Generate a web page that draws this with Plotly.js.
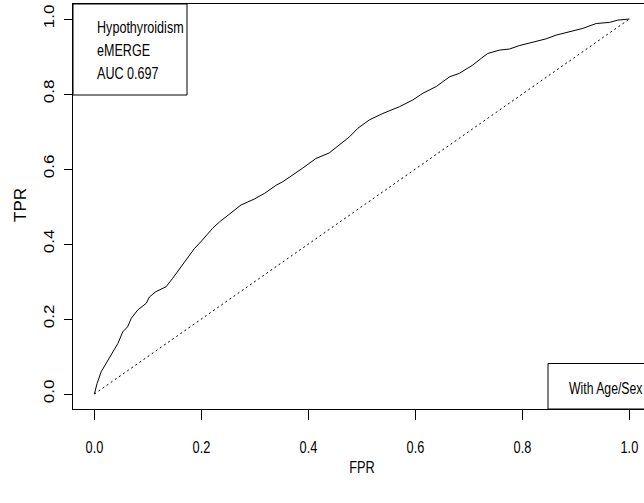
<!DOCTYPE html>
<html>
<head>
<meta charset="utf-8">
<script src="https://cdn.plot.ly/plotly-3.0.1.min.js"></script>
<style>html,body{margin:0;padding:0;background:#fff;}#chart{width:644px;height:503px;}</style>
</head>
<body>
<div id="chart"></div>
<script>
// ROC curve (FPR, TPR)
const fpr = [0, 0.005, 0.0125, 0.022, 0.031, 0.044, 0.053, 0.062, 0.069, 0.081, 0.097, 0.103, 0.115, 0.134, 0.146, 0.162, 0.174, 0.187, 0.199, 0.212, 0.221, 0.234, 0.255, 0.274, 0.299, 0.318, 0.34, 0.352, 0.389, 0.414, 0.439, 0.458, 0.477, 0.492, 0.514, 0.539, 0.57, 0.595, 0.614, 0.639, 0.664, 0.682, 0.707, 0.723, 0.735, 0.757, 0.776, 0.794, 0.819, 0.844, 0.863, 0.888, 0.913, 0.938, 0.963, 0.978, 1.0];
const tpr = [0, 0.028, 0.059, 0.082, 0.104, 0.135, 0.166, 0.179, 0.202, 0.224, 0.242, 0.259, 0.273, 0.286, 0.308, 0.339, 0.362, 0.388, 0.406, 0.428, 0.442, 0.459, 0.482, 0.504, 0.52, 0.535, 0.557, 0.566, 0.602, 0.628, 0.643, 0.664, 0.686, 0.708, 0.731, 0.748, 0.766, 0.784, 0.802, 0.82, 0.846, 0.855, 0.877, 0.895, 0.908, 0.917, 0.92, 0.929, 0.938, 0.947, 0.957, 0.966, 0.975, 0.988, 0.991, 0.997, 1.0];
// chance diagonal
const diagX = [0, 1];
const diagY = [0, 1];
// tick labels
const tickVals = [0, 0.2, 0.4, 0.6, 0.8, 1.0];
const tickText = ["0.0", "0.2", "0.4", "0.6", "0.8", "1.0"];
// legend texts
const legendLines = ["Hypothyroidism", "eMERGE", "AUC 0.697"];
const legend2 = "With Age/Sex";
const xTitle = "FPR";
const yTitle = "TPR";

const FONT = "'Liberation Sans', Arial, Helvetica, sans-serif";
const FS = 17;
const SQUASH = 0.75; // reference text is horizontally condensed

// pixel helpers (plot area: x 73..644, y 4..409)
const px = x => (x - 73) / 571;
const py = y => (409 - y) / 405;

const traces = [
  {x: fpr, y: tpr, type: 'scatter', mode: 'lines', line: {color: '#000', width: 1}, hoverinfo: 'skip'},
  {x: diagX, y: diagY, type: 'scatter', mode: 'lines', line: {color: '#000', width: 1, dash: '2px,3px'}, hoverinfo: 'skip'}
];

const annotations = legendLines.map((t, i) => ({
  text: t, xref: 'paper', yref: 'paper', x: px(95), y: py(28 + i * 22.5),
  xanchor: 'left', yanchor: 'middle', showarrow: false, font: {family: FONT, size: FS, color: '#000'},
  name: 'left', squash: 0.74
}));
annotations.push({text: legend2, xref: 'paper', yref: 'paper', x: px(567), y: py(388),
  xanchor: 'left', yanchor: 'middle', showarrow: false, font: {family: FONT, size: FS, color: '#000'}, name: 'left', squash: 0.72});
annotations.push({text: xTitle, xref: 'paper', yref: 'paper', x: px(362), y: py(467),
  xanchor: 'center', yanchor: 'middle', showarrow: false, font: {family: FONT, size: FS, color: '#000'}, name: 'center', squash: SQUASH});
annotations.push({text: yTitle, xref: 'paper', yref: 'paper', x: px(20.5), y: py(205.5),
  xanchor: 'center', yanchor: 'middle', textangle: -90, showarrow: false, font: {family: FONT, size: FS, color: '#000'}, name: 'rot', squash: 1});

const layout = {
  width: 644, height: 503,
  margin: {l: 73, r: 0, t: 4, b: 94, pad: 0},
  paper_bgcolor: '#fff', plot_bgcolor: '#fff',
  showlegend: false,
  font: {family: FONT, size: FS, color: '#000'},
  xaxis: {
    range: [-0.04, 1.0273], tickvals: tickVals, ticktext: tickText,
    ticks: 'outside', ticklen: 10, tickwidth: 1, tickcolor: '#000',
    showline: true, linecolor: '#000', linewidth: 1, mirror: true,
    showgrid: false, zeroline: false, ticklabelstandoff: 13,
    tickfont: {family: FONT, size: FS, color: '#000'}
  },
  yaxis: {
    range: [-0.04, 1.04], tickvals: tickVals, ticktext: tickText, tickangle: -90,
    ticks: 'outside', ticklen: 8, tickwidth: 1, tickcolor: '#000',
    showline: true, linecolor: '#000', linewidth: 1, mirror: false,
    showgrid: false, zeroline: false, ticklabelstandoff: 2,
    tickfont: {family: FONT, size: FS, color: '#000'}
  },
  shapes: [
    {type: 'rect', xref: 'paper', yref: 'paper', x0: 0, x1: px(187), y0: py(95), y1: 1, line: {color: '#000', width: 1}, fillcolor: 'rgba(0,0,0,0)'},
    {type: 'rect', xref: 'paper', yref: 'paper', x0: px(548), x1: 1.05, y0: 0, y1: py(363.5), line: {color: '#000', width: 1}, fillcolor: 'rgba(0,0,0,0)'}
  ],
  annotations: annotations
};

// condense a text element horizontally around its left edge or centre (screen space)
function squash(el, s, mode) {
  const r = el.getBoundingClientRect();
  const m = el.parentNode.getScreenCTM();
  const sx = mode === 'left' ? r.left : (r.left + r.right) / 2;
  const a = sx - m.e;
  const old = el.getAttribute('transform') || '';
  el.setAttribute('transform', `translate(${a},0) scale(${s},1) translate(${-a},0) ${old}`);
}

Plotly.newPlot('chart', traces, layout, {displayModeBar: false, staticPlot: true}).then(gd => {
  gd.querySelectorAll('.xtick text').forEach(el => squash(el, SQUASH, 'center'));
  gd.querySelectorAll('.ytick text').forEach(el => squash(el, 0.85, 'center'));
  const ann = gd.querySelectorAll('.annotation');
  ann.forEach((g, i) => {
    const a = annotations[i];
    const t = g.querySelector('text.annotation-text');
    if (!t || a.name === 'rot') return;
    squash(t, a.squash, a.name);
  });
});
</script>
</body>
</html>
